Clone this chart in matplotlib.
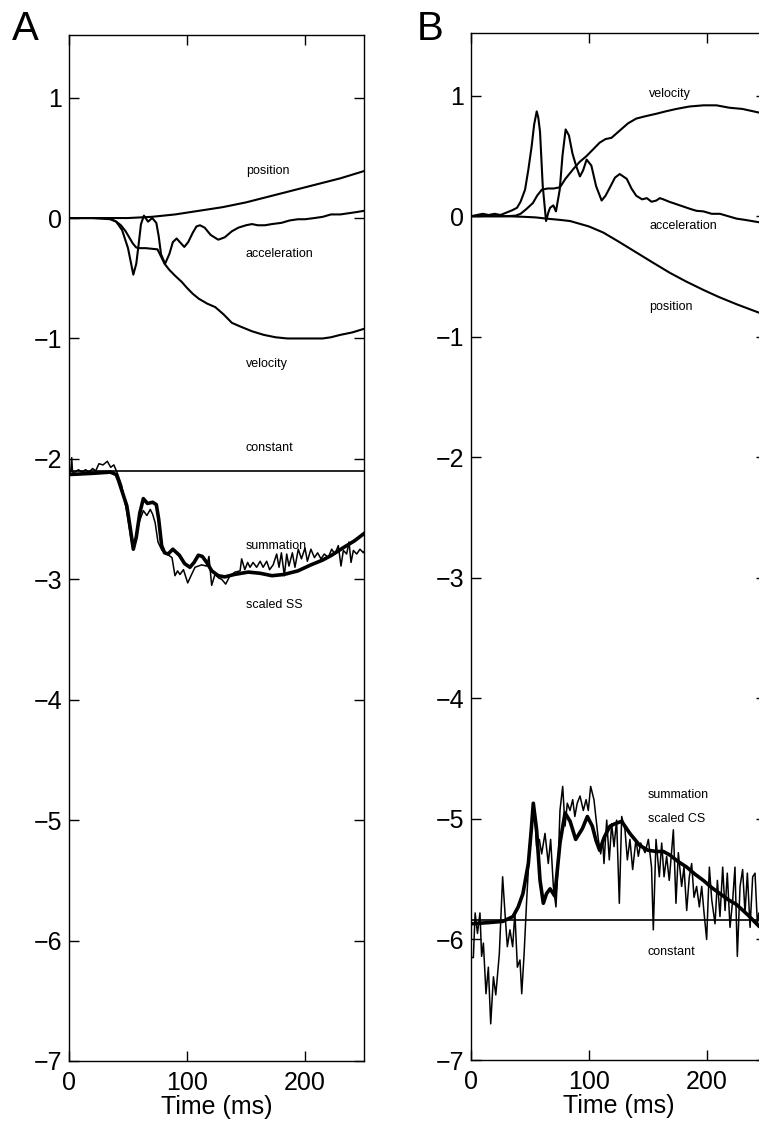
import matplotlib

matplotlib.use("Agg")
import matplotlib.pyplot as plt
import numpy as np

plt.rcParams.update(
    {
        "font.family": ["Liberation Sans", "DejaVu Sans"],
        "axes.linewidth": 1.0,
        "axes.unicode_minus": True,
    }
)

# ---- panel A: simple spike (SS) fit -------------------------------------
POS_A = [(0, 0), (30, 0), (50, 0.0), (70, 0.01), (90, 0.03), (110, 0.06), (130, 0.09),
         (150, 0.13), (170, 0.18), (190, 0.23), (210, 0.28), (230, 0.33), (250, 0.39)]

ACC_A = [(0, 0), (20, 0), (35, -0.01), (40, -0.03), (45, -0.1), (50, -0.25), (54.5, -0.47),
         (57, -0.38), (59, -0.22), (61, -0.05), (63.5, 0.02), (67, -0.03), (70.5, 0.0),
         (74, -0.04), (76, -0.15), (78, -0.3), (81.4, -0.38), (85, -0.3), (88, -0.2),
         (91.2, -0.17), (94, -0.2), (97.7, -0.24), (101, -0.2), (105, -0.12), (108, -0.07),
         (111, -0.06), (115, -0.08), (120, -0.14), (126.5, -0.18), (132, -0.16), (138, -0.11),
         (143.5, -0.08), (150, -0.06), (155, -0.05), (160, -0.06), (166, -0.06), (172, -0.05),
         (180, -0.04), (187, -0.02), (194, -0.01), (200, -0.01), (208, 0.0), (215, 0.01),
         (222, 0.03), (230, 0.03), (237, 0.04), (244, 0.05), (250, 0.06)]

VEL_A = [(0, 0), (30, 0), (36, -0.01), (40, -0.03), (44, -0.06), (48, -0.11), (51, -0.16),
         (54, -0.21), (57, -0.245), (60, -0.25), (65, -0.25), (70, -0.255), (75, -0.26),
         (78, -0.32), (81, -0.38), (85, -0.43), (90, -0.48), (95.5, -0.53), (100, -0.58),
         (105, -0.63), (110, -0.67), (117, -0.71), (124, -0.74), (131, -0.80), (138, -0.87),
         (145, -0.90), (155, -0.94), (165, -0.97), (175, -0.99), (185, -1.0), (194, -1.0),
         (205, -1.0), (215, -1.0), (222, -0.99), (230, -0.97), (240, -0.95), (250, -0.92)]

CONST_A = -2.10

SUM_A = [(0, -2.13), (20, -2.12), (35, -2.11), (40, -2.13), (42, -2.18), (45, -2.27),
         (49, -2.39), (52, -2.58), (54.5, -2.75), (57, -2.65), (60, -2.45), (63, -2.33),
         (66.5, -2.37), (71, -2.36), (74, -2.38), (76, -2.5), (78.5, -2.72), (81, -2.78),
         (84, -2.79), (88, -2.75), (93.5, -2.80), (98, -2.87), (102.5, -2.90), (106, -2.86),
         (109.6, -2.80), (113, -2.81), (116.7, -2.86), (121, -2.93), (126.5, -2.97),
         (132, -2.98), (140, -2.96), (152, -2.94), (162, -2.95), (172, -2.97), (182, -2.96),
         (194, -2.93), (205, -2.88), (215, -2.84), (222.6, -2.80), (232, -2.74),
         (242, -2.68), (250, -2.62)]

SS_A = [(0, -2.11), (1.5, -2.11), (2.3, -1.99), (3, -2.11), (5, -2.11), (8, -2.09),
        (11, -2.11), (14, -2.09), (17, -2.11), (20, -2.08), (22.6, -2.10), (25.4, -2.04),
        (28.8, -2.05), (32.5, -2.02), (35.3, -2.07), (38, -2.05), (41, -2.12), (44.6, -2.22),
        (49, -2.44), (53, -2.69), (55, -2.75), (57.3, -2.61), (60, -2.51), (63, -2.43),
        (66, -2.47), (68.9, -2.42), (70.9, -2.46), (73, -2.53), (75.4, -2.69), (78.8, -2.76),
        (83, -2.79), (87.3, -2.82), (89.8, -2.97), (92, -2.93), (94, -2.96), (97, -2.92),
        (100.6, -3.03), (103.4, -2.97), (106.8, -2.90), (112.4, -2.88), (116.7, -2.89),
        (118.6, -2.81), (120.9, -3.05), (123.7, -2.96), (127, -2.99), (129.4, -3.0),
        (132.8, -3.04), (136.4, -2.97), (140.7, -2.94), (145, -2.93), (146.3, -2.83),
        (149, -2.92), (151.4, -2.86), (153.4, -2.90), (156, -2.86), (159, -2.90),
        (162, -2.85), (164.5, -2.90), (167.5, -2.85), (170, -2.92), (173, -2.88),
        (176, -2.79), (178, -2.90), (180, -2.78), (182.5, -2.97), (184.5, -2.79),
        (186.4, -2.89), (189.3, -2.78), (191.5, -2.90), (194.3, -2.75), (197, -2.83),
        (200, -2.74), (202, -2.85), (205, -2.75), (208, -2.82), (210.7, -2.78),
        (213.5, -2.83), (216.4, -2.79), (219.7, -2.82), (222.6, -2.75), (225.4, -2.79),
        (228.2, -2.72), (230.5, -2.89), (232.5, -2.76), (235.3, -2.79), (237.3, -2.69),
        (239, -2.86), (241, -2.76), (243.8, -2.79), (246.6, -2.75), (249.5, -2.78),
        (250, -2.77)]

# ---- panel B: complex spike (CS) fit ------------------------------------
POS_B = [(0, 0), (30, 0), (45, -0.005), (55, -0.01), (64, -0.02), (75, -0.03), (84, -0.04),
         (100, -0.085), (112, -0.135), (125, -0.21), (140, -0.30), (155, -0.39),
         (168.6, -0.47), (182, -0.54), (196.6, -0.61), (210, -0.67), (225, -0.73),
         (244, -0.80), (250, -0.82)]

VEL_B = [(0, 0), (30, 0), (38, 0.005), (42, 0.02), (47, 0.06), (52.5, 0.11), (56, 0.17),
         (60, 0.22), (65, 0.23), (70, 0.23), (75.4, 0.24), (80, 0.31), (86.6, 0.39),
         (92, 0.45), (98, 0.50), (104, 0.56), (109, 0.61), (114, 0.64), (119, 0.65),
         (126, 0.71), (133, 0.77), (140, 0.81), (148, 0.83), (157, 0.85), (165, 0.87),
         (174, 0.89), (185, 0.91), (197, 0.92), (208, 0.92), (219, 0.90), (230, 0.89),
         (244, 0.86), (250, 0.85)]

ACC_B = [(0, 0.0), (5, 0.01), (10, 0.02), (15, 0.01), (20, 0.02), (25, 0.01), (30, 0.03),
         (35, 0.05), (39, 0.07), (42, 0.12), (45.8, 0.22), (48.5, 0.38), (51.4, 0.58),
         (53.5, 0.76), (55.7, 0.87), (57, 0.82), (58.5, 0.70), (60.8, 0.25), (63.6, -0.04),
         (65.5, 0.03), (67, 0.07), (69.8, 0.09), (72, 0.04), (75.2, 0.22), (77.5, 0.50),
         (80.2, 0.72), (83, 0.67), (86, 0.52), (89, 0.42), (92.3, 0.33), (95, 0.38),
         (98, 0.47), (102, 0.42), (106, 0.25), (110.7, 0.13), (114, 0.17), (117.8, 0.24),
         (122, 0.32), (126, 0.35), (132, 0.31), (136, 0.23), (140, 0.17), (145, 0.14),
         (149, 0.15), (153, 0.12), (157, 0.13), (160, 0.15), (163, 0.14), (168, 0.12),
         (174, 0.10), (180, 0.08), (186, 0.06), (191, 0.045), (197, 0.04), (204, 0.02),
         (211, 0.02), (218, 0.0), (225, -0.02), (232, -0.03), (238, -0.04), (244, -0.05),
         (250, -0.05)]

CONST_B = -5.84

SUM_B = [(0, -5.87), (15, -5.86), (27, -5.85), (35.6, -5.81), (40, -5.73), (44, -5.62),
         (48.6, -5.37), (51, -5.10), (52.8, -4.87), (55.6, -5.09), (58.5, -5.51),
         (61.3, -5.70), (64, -5.62), (67, -5.58), (71, -5.64), (75.4, -5.20), (79.7, -4.95),
         (84, -5.02), (88.7, -5.17), (94.4, -5.08), (98.6, -4.98), (102.8, -5.06),
         (106, -5.18), (109, -5.26), (113, -5.15), (117.8, -5.06), (122, -5.04),
         (127.7, -5.02), (134.6, -5.12), (143, -5.22), (150, -5.26), (157, -5.27),
         (163, -5.27), (168.6, -5.30), (175, -5.35), (182.8, -5.40), (190, -5.46),
         (196.9, -5.51), (204, -5.57), (211, -5.62), (218, -5.67), (225, -5.71),
         (235, -5.80), (244, -5.89), (250, -5.93)]

CS_B = [(0, -6.15), (2, -6.15), (3.5, -5.78), (5.5, -5.95), (7.6, -5.78), (9, -6.14),
        (10.5, -6.03), (12.7, -6.45), (14.7, -6.23), (16.7, -6.70), (19, -6.31),
        (21, -6.46), (24, -6.12), (26.8, -5.48), (28.8, -5.78), (30.8, -6.06), (33, -5.92),
        (35.3, -6.06), (37.2, -5.78), (39.3, -6.23), (41.5, -6.17), (43, -6.45),
        (45, -6.12), (47.2, -5.67), (50, -5.17), (52.8, -4.90), (54.2, -5.01),
        (55.6, -5.23), (57.9, -5.17), (59.9, -5.29), (62.7, -5.12), (65.5, -5.37),
        (67.5, -5.17), (69.8, -5.56), (72, -5.73), (74, -5.34), (75.4, -4.93),
        (77.7, -4.73), (79.7, -5.06), (81.6, -4.87), (83.9, -4.93), (86.2, -4.84),
        (88, -4.98), (90, -4.87), (92.4, -4.81), (95.2, -4.93), (97.5, -4.84),
        (99.4, -4.93), (101.4, -4.73), (104.2, -4.84), (107.9, -5.17), (109.9, -5.29),
        (111.6, -5.17), (112.7, -5.37), (115, -5.01), (117.2, -5.34), (119.2, -5.04),
        (121.2, -5.23), (123.4, -5.01), (125.7, -5.70), (127.7, -4.98), (130.5, -5.09),
        (132.5, -5.34), (134.7, -5.17), (137, -5.42), (139.8, -5.17), (141.8, -5.31),
        (143.8, -5.20), (147.5, -5.28), (150.3, -5.17), (153, -5.40), (154.5, -5.92),
        (156.8, -5.17), (159.6, -5.48), (161.6, -5.20), (163.6, -5.48), (165.8, -5.31),
        (168, -5.51), (171.5, -5.09), (173.7, -5.70), (175.7, -5.28), (178.5, -5.56),
        (180.5, -5.40), (182.8, -5.76), (185, -5.48), (187, -5.37), (189, -5.65),
        (191.2, -5.56), (193.5, -5.73), (195.5, -5.56), (197.5, -5.78), (199.7, -6.00),
        (202, -5.40), (204, -5.67), (206.8, -5.87), (208.8, -5.51), (211, -5.81),
        (213.3, -5.40), (215.3, -5.76), (217.2, -5.45), (219.5, -5.90), (221.8, -5.67),
        (223.7, -5.40), (225.7, -6.14), (228, -5.56), (230.2, -5.42), (232.2, -5.78),
        (234.2, -5.45), (236.5, -5.90), (238.7, -5.48), (240.7, -5.45), (242.7, -5.87),
        (244, -5.78), (246, -5.95), (248, -5.70), (250, -5.90)]

# curve labels: (text, x, y), left aligned
LABELS_A = [("position", 150, 0.39), ("acceleration", 150, -0.30), ("velocity", 150, -1.21),
            ("constant", 150, -1.91), ("summation", 150, -2.72), ("scaled SS", 150, -3.21)]
LABELS_B = [("velocity", 151, 1.01), ("acceleration", 151, -0.08), ("position", 151, -0.75),
            ("summation", 150, -4.80), ("scaled CS", 150, -5.00), ("constant", 150, -6.10)]

W, H = 759, 1124


def xy(points):
    arr = np.array(points, dtype=float)
    return arr[:, 0], arr[:, 1]


def style(ax):
    ax.set_xlim(0, 250)
    ax.set_ylim(-7, 1.52)
    ax.set_xticks([0, 100, 200])
    ax.set_yticks(range(-7, 2))
    ax.tick_params(direction="in", length=7, width=1, top=True, right=True,
                   labelsize=18, pad=5)
    ax.tick_params(axis="x", pad=7)
    ax.set_xlabel("Time (ms)", fontsize=18, labelpad=0)


def draw(ax, pos, vel, acc, const, summ, data, labels):
    for curve in (pos, vel, acc):
        ax.plot(*xy(curve), color="black", lw=1.5)
    ax.plot([0, 250], [const, const], color="black", lw=1.2)
    ax.plot(*xy(data), color="black", lw=1.1)
    ax.plot(*xy(summ), color="black", lw=2.6)
    for text, x, y in labels:
        ax.text(x, y, text, fontsize=9, ha="left", va="center")
    style(ax)


fig = plt.figure(figsize=(W / 100, H / 100), dpi=100)
ax_a = fig.add_axes([69 / W, (H - 1061) / H, 295 / W, (1061 - 35) / H])
ax_b = fig.add_axes([471 / W, (H - 1060) / H, 295 / W, (1060 - 33) / H])

draw(ax_a, POS_A, VEL_A, ACC_A, CONST_A, SUM_A, SS_A, LABELS_A)
draw(ax_b, POS_B, VEL_B, ACC_B, CONST_B, SUM_B, CS_B, LABELS_B)

fig.text(12 / W, 1 - 40 / H, "A", fontsize=29, va="baseline")
fig.text(417 / W, 1 - 40 / H, "B", fontsize=29, va="baseline")

fig.savefig("out.png", dpi=100)
